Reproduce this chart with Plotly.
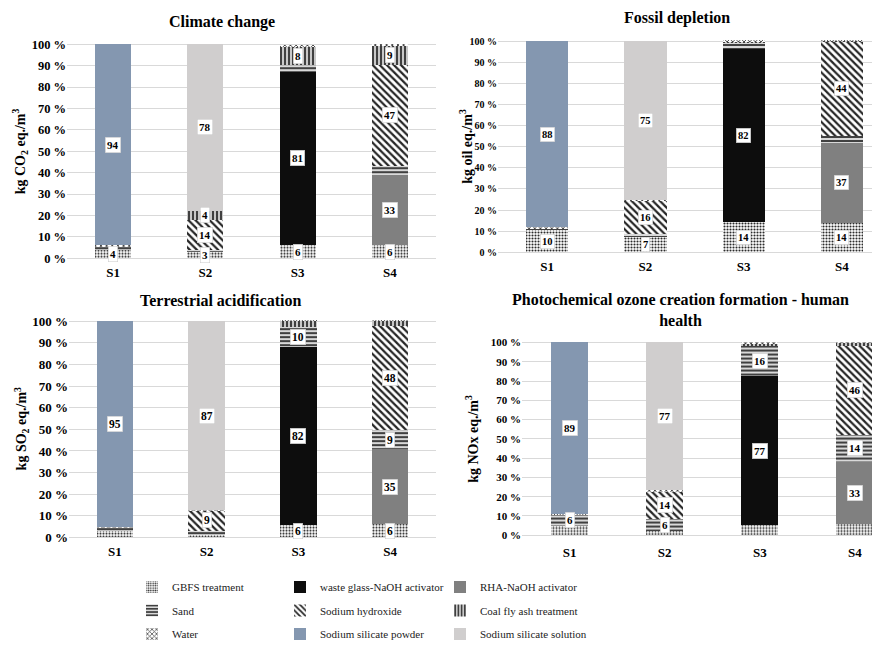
import plotly.graph_objects as go

# ---------------- data ----------------
scenarios = ["S1", "S2", "S3", "S4"]
components = [
    "GBFS treatment", "waste glass-NaOH activator", "RHA-NaOH activator",
    "Sand", "Sodium hydroxide", "Coal fly ash treatment",
    "Water", "Sodium silicate powder", "Sodium silicate solution",
]

# shares (%) per component, scenarios S1..S4
climate_change = {
    "GBFS treatment": [4.0, 3.0, 6.0, 6.0],
    "waste glass-NaOH activator": [0, 0, 81.3, 0],
    "RHA-NaOH activator": [0, 0, 0, 33.0],
    "Sand": [1.5, 1.0, 3.0, 4.0],
    "Sodium hydroxide": [0, 14.0, 0, 47.5],
    "Coal fly ash treatment": [0, 4.0, 8.4, 9.0],
    "Water": [0.5, 0.3, 1.2, 0.8],
    "Sodium silicate powder": [94.0, 0, 0, 0],
    "Sodium silicate solution": [0, 77.7, 0, 0],
}
climate_labels = {
    "GBFS treatment": [4, 3, 6, 6],
    "waste glass-NaOH activator": [None, None, 81, None],
    "RHA-NaOH activator": [None, None, None, 33],
    "Sodium hydroxide": [None, 14, None, 47],
    "Coal fly ash treatment": [None, 4, 8, 9],
    "Sodium silicate powder": [94, None, None, None],
    "Sodium silicate solution": [None, 78, None, None],
}

fossil_depletion = {
    "GBFS treatment": [10.5, 7.2, 14.3, 14.0],
    "waste glass-NaOH activator": [0, 0, 81.8, 0],
    "RHA-NaOH activator": [0, 0, 0, 37.7],
    "Sand": [1.0, 1.5, 3.2, 3.5],
    "Sodium hydroxide": [0, 15.8, 0, 44.5],
    "Coal fly ash treatment": [0, 0, 0.7, 0.6],
    "Water": [0.3, 0.3, 0.3, 0.2],
    "Sodium silicate powder": [88.2, 0, 0, 0],
    "Sodium silicate solution": [0, 75.2, 0, 0],
}
fossil_labels = {
    "GBFS treatment": [10, 7, 14, 14],
    "waste glass-NaOH activator": [None, None, 82, None],
    "RHA-NaOH activator": [None, None, None, 37],
    "Sodium hydroxide": [None, 16, None, 44],
    "Sodium silicate powder": [88, None, None, None],
    "Sodium silicate solution": [None, 75, None, None],
}

terrestrial_acidification = {
    "GBFS treatment": [3.0, 1.3, 5.7, 6.0],
    "waste glass-NaOH activator": [0, 0, 82.3, 0],
    "RHA-NaOH activator": [0, 0, 0, 34.7],
    "Sand": [1.7, 1.8, 9.6, 8.8],
    "Sodium hydroxide": [0, 9.5, 0, 48.2],
    "Coal fly ash treatment": [0, 0, 2.6, 2.6],
    "Water": [0.3, 0.2, 0.2, 0.2],
    "Sodium silicate powder": [95.0, 0, 0, 0],
    "Sodium silicate solution": [0, 87.2, 0, 0],
}
terrestrial_labels = {
    "GBFS treatment": [None, None, 6, 6],
    "waste glass-NaOH activator": [None, None, 82, None],
    "RHA-NaOH activator": [None, None, None, 35],
    "Sand": [None, None, 10, 9],
    "Sodium hydroxide": [None, 9, None, 48],
    "Sodium silicate powder": [95, None, None, None],
    "Sodium silicate solution": [None, 87, None, None],
}

photochemical_ozone = {
    "GBFS treatment": [4.7, 2.2, 5.2, 5.6],
    "waste glass-NaOH activator": [0, 0, 77.2, 0],
    "RHA-NaOH activator": [0, 0, 0, 32.6],
    "Sand": [6.3, 6.2, 15.6, 13.8],
    "Sodium hydroxide": [0, 14.6, 0, 46.2],
    "Coal fly ash treatment": [0, 0, 1.8, 1.8],
    "Water": [0.2, 0.2, 0.2, 0.2],
    "Sodium silicate powder": [88.8, 0, 0, 0],
    "Sodium silicate solution": [0, 76.8, 0, 0],
}
photochemical_labels = {
    "waste glass-NaOH activator": [None, None, 77, None],
    "RHA-NaOH activator": [None, None, None, 33],
    "Sand": [6, 6, 16, 14],
    "Sodium hydroxide": [None, 14, None, 46],
    "Sodium silicate powder": [89, None, None, None],
    "Sodium silicate solution": [None, 77, None, None],
}

y_ticks = list(range(0, 101, 10))
y_ticktext = [f"<b>{v} %</b>" for v in y_ticks]

# ---------------- styles ----------------
FONT = "Liberation Serif, Times New Roman, serif"
OFF = 8                 # page body margin of the html page
FW, FH = 880 - OFF, 649 - OFF


def px(x):
    return (x - OFF) / FW


def py(y):
    return 1 - (y - OFF) / FH


styles = {
    "GBFS treatment": dict(color="white", pattern=dict(shape=".", fgcolor="#2a2a2a", bgcolor="white", size=3, solidity=0.4, fillmode="replace")),
    "waste glass-NaOH activator": dict(color="#0d0d0d"),
    "RHA-NaOH activator": dict(color="#808080"),
    "Sand": dict(color="#d0d0d0", pattern=dict(shape="-", fgcolor="#404040", bgcolor="#d9d9d9", size=4, solidity=0.5, fillmode="replace")),
    "Sodium hydroxide": dict(color="white", pattern=dict(shape="\\", fgcolor="#262626", bgcolor="white", size=5, solidity=0.45, fillmode="replace")),
    "Coal fly ash treatment": dict(color="#bfbfbf", pattern=dict(shape="|", fgcolor="#404040", bgcolor="#c8c8c8", size=4, solidity=0.5, fillmode="replace")),
    "Water": dict(color="white", pattern=dict(shape="x", fgcolor="#404040", bgcolor="white", size=4, solidity=0.4, fillmode="replace")),
    "Sodium silicate powder": dict(color="#8497b0"),
    "Sodium silicate solution": dict(color="#d0cece"),
}
legend_of = {
    "GBFS treatment": "legend", "Sand": "legend", "Water": "legend",
    "waste glass-NaOH activator": "legend2", "Sodium hydroxide": "legend2", "Sodium silicate powder": "legend2",
    "RHA-NaOH activator": "legend3", "Coal fly ash treatment": "legend3", "Sodium silicate solution": "legend3",
}

# panel geometry in screen pixels: plot-area left, right edge of 4 category slots, y pixel of 0 % and 100 %
panels = [
    dict(data=climate_change, labels=climate_labels, title="Climate change",
         ytitle="kg CO<sub>2</sub> eq./m<sup>3</sup>", x0=67, x4=436, p0=258.3, p100=40.0,
         title_xy=(222, 17), ytitle_x=20, tick=12.5, lab=11, bw=0.39, xstand=5),
    dict(data=fossil_depletion, labels=fossil_labels, title="Fossil depletion",
         ytitle="kg oil eq./m<sup>3</sup>", x0=498, x4=891, p0=252.3, p100=36.7,
         title_xy=(677, 13), ytitle_x=466, tick=10, lab=10.5, bw=0.43, xstand=5),
    dict(data=terrestrial_acidification, labels=terrestrial_labels, title="Terrestrial acidification",
         ytitle="kg SO<sub>2</sub> eq./m<sup>3</sup>", x0=69, x4=436, p0=543.3, p100=322.7,
         title_xy=(220, 301), ytitle_x=22, tick=13, lab=11.5, bw=0.4, xstand=5),
    dict(data=photochemical_ozone, labels=photochemical_labels,
         title="Photochemical ozone creation formation - human<br>health",
         ytitle="kg NOx eq./m<sup>3</sup>", x0=522, x4=902.5, p0=541.0, p100=344.3,
         title_xy=(680, 311), ytitle_x=472, tick=11, lab=11, bw=0.39, xstand=8),
]

fig = go.Figure()
annotations = []
layout_axes = {}
YMAX = 101

for i, p in enumerate(panels):
    n = i + 1
    xa = "x" if n == 1 else f"x{n}"
    ya = "y" if n == 1 else f"y{n}"
    x_right = min(p["x4"], 880)
    xr = -0.5 + 4 * (x_right - p["x0"]) / (p["x4"] - p["x0"])
    ptop = p["p100"] - (p["p0"] - p["p100"]) * (YMAX - 100) / 100
    layout_axes["xaxis" if n == 1 else f"xaxis{n}"] = dict(
        domain=[px(p["x0"]), px(x_right)], anchor=ya, type="category",
        range=[-0.5, xr], showgrid=False, showline=False, ticks="",
        tickfont=dict(family=FONT, size=13, color="black"),
        tickvals=scenarios, ticktext=[f"<b>{s}</b>" for s in scenarios],
        ticklabelstandoff=p["xstand"], fixedrange=True,
    )
    layout_axes["yaxis" if n == 1 else f"yaxis{n}"] = dict(
        domain=[py(p["p0"]), py(ptop)], anchor=xa, range=[0, YMAX],
        tickvals=y_ticks, ticktext=y_ticktext, showgrid=True, gridcolor="#d9d9d9",
        gridwidth=1, zeroline=True, zerolinecolor="#d9d9d9", zerolinewidth=1,
        showline=False, ticks="", tickfont=dict(family=FONT, size=p["tick"], color="black"),
        fixedrange=True,
    )
    cum = [0.0] * 4
    for comp in components:
        vals = p["data"][comp]
        st = styles[comp]
        marker = dict(color=st["color"], line=dict(width=0))
        if "pattern" in st:
            marker["pattern"] = st["pattern"]
        fig.add_trace(go.Bar(
            x=scenarios, y=vals, name=comp, marker=marker, width=p["bw"],
            xaxis=xa, yaxis=ya, legendgroup=comp, showlegend=(n == 1),
            legend=legend_of[comp], hoverinfo="skip",
        ))
        labs = p["labels"].get(comp)
        for j, s in enumerate(scenarios):
            if labs is not None and labs[j] is not None:
                annotations.append(dict(
                    x=s, y=cum[j] + vals[j] / 2, xref=xa, yref=ya,
                    text=f"<b>{labs[j]}</b>", showarrow=False,
                    font=dict(family=FONT, size=p["lab"], color="black"),
                    bgcolor="white", bordercolor="#c8c8c8", borderwidth=0.5, borderpad=1.5,
                ))
            cum[j] += vals[j]
    # panel title
    annotations.append(dict(
        x=px(p["title_xy"][0]), y=py(p["title_xy"][1]), xref="paper", yref="paper",
        text=f"<b>{p['title']}</b>", showarrow=False,
        font=dict(family=FONT, size=16, color="black"), xanchor="center", yanchor="middle",
    ))
    # y-axis title
    annotations.append(dict(
        x=px(p["ytitle_x"]), y=py((p["p0"] + p["p100"]) / 2), xref="paper", yref="paper",
        text=f"<b>{p['ytitle']}</b>", showarrow=False, textangle=-90,
        font=dict(family=FONT, size=14, color="black"), xanchor="center", yanchor="middle",
    ))

legend_common = dict(
    orientation="v", yanchor="top", xanchor="left", traceorder="grouped",
    bgcolor="rgba(0,0,0,0)", font=dict(family=FONT, size=11, color="#222"),
    tracegroupgap=4.5, itemclick=False, itemdoubleclick=False,
)
fig.update_layout(
    width=FW, height=FH, margin=dict(l=0, r=0, t=0, b=0),
    paper_bgcolor="white", plot_bgcolor="white", barmode="stack", bargap=0.6,
    showlegend=True,
    legend=dict(x=px(132), y=py(579), **legend_common),
    legend2=dict(x=px(280), y=py(579), **legend_common),
    legend3=dict(x=px(440), y=py(579), **legend_common),
    annotations=annotations,
    **layout_axes,
)

fig.write_html("out.html")
